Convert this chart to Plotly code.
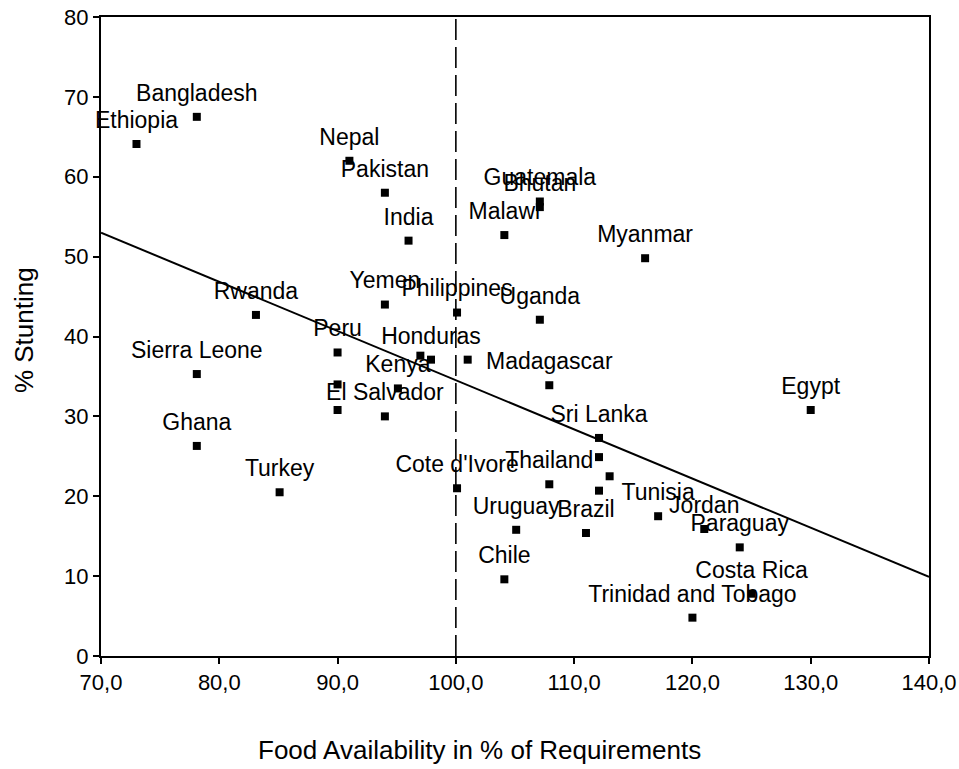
import plotly.graph_objects as go

countries = ["Ethiopia", "Bangladesh", "Nepal", "Pakistan", "India", "Guatemala", "Bhutan",
             "Malawi", "Myanmar", "Rwanda", "Yemen", "Philippines", "Uganda", "Peru",
             "Honduras", "", "", "Sierra Leone", "", "Kenya", "Madagascar", "", "El Salvador",
             "Egypt", "Ghana", "Sri Lanka", "", "", "Thailand", "", "Turkey", "Cote d'Ivore",
             "Uruguay", "Brazil", "Tunisia", "Jordan", "Paraguay", "Chile", "Costa Rica",
             "Trinidad and Tobago"]
food_availability = [73.0, 78.1, 91.0, 94.0, 96.0, 107.1, 107.1,
                     104.1, 116.0, 83.1, 94.0, 100.1, 107.1, 90.0,
                     97.9, 97.0, 101.0, 78.1, 90.0, 95.1, 107.9, 90.0, 94.0,
                     130.0, 78.1, 112.1, 112.1, 113.0, 107.9, 112.1, 85.1, 100.1,
                     105.1, 111.0, 117.1, 121.0, 124.0, 104.1, 125.0,
                     120.0]
stunting = [64.1, 67.5, 62.0, 58.0, 52.0, 56.9, 56.2,
            52.7, 49.8, 42.7, 44.0, 43.0, 42.1, 38.0,
            37.1, 37.6, 37.1, 35.3, 34.0, 33.5, 33.9, 30.8, 30.0,
            30.8, 26.3, 27.3, 24.9, 22.5, 21.5, 20.7, 20.5, 21.0,
            15.8, 15.4, 17.5, 15.9, 13.6, 9.6, 7.8,
            4.8]

fit_x = [70.0, 140.0]
fit_y = [53.0, 9.9]
ref_x = [100.0, 100.0]
ref_y = [0.0, 80.0]

x_tickvals = [70, 80, 90, 100, 110, 120, 130, 140]
x_ticktext = ["70,0", "80,0", "90,0", "100,0", "110,0", "120,0", "130,0", "140,0"]
y_tickvals = [0, 10, 20, 30, 40, 50, 60, 70, 80]
y_ticktext = ["0", "10", "20", "30", "40", "50", "60", "70", "80"]

FONT = "Liberation Sans, Arial, sans-serif"

fig = go.Figure()
fig.add_trace(go.Scatter(x=ref_x, y=ref_y, mode="lines",
                         line=dict(color="black", width=1.6, dash="21px,7px"),
                         hoverinfo="skip", showlegend=False))
fig.add_trace(go.Scatter(x=fit_x, y=fit_y, mode="lines",
                         line=dict(color="black", width=2),
                         hoverinfo="skip", showlegend=False))
# labels (transparent larger marker gives the label offset seen in the reference)
fig.add_trace(go.Scatter(x=food_availability, y=stunting, mode="markers+text",
                         text=countries, textposition="top center",
                         textfont=dict(family=FONT, size=23, color="black"),
                         marker=dict(symbol="square", size=15, color="rgba(0,0,0,0)"),
                         cliponaxis=False, hoverinfo="skip", showlegend=False))
fig.add_trace(go.Scatter(x=food_availability, y=stunting, mode="markers",
                         text=countries,
                         marker=dict(symbol="square", size=8, color="black"),
                         cliponaxis=False, showlegend=False))

fig.update_xaxes(range=[70, 140], tickvals=x_tickvals, ticktext=x_ticktext,
                 showgrid=False, zeroline=False, showline=True, linecolor="black",
                 linewidth=2, mirror=True, ticks="outside", ticklen=6, tickwidth=2,
                 tickcolor="black", ticklabeloverflow="allow", automargin=False,
                 tickfont=dict(family=FONT, size=22, color="black"))
fig.update_yaxes(range=[0, 80], tickvals=y_tickvals, ticktext=y_ticktext,
                 showgrid=False, zeroline=False, showline=True, linecolor="black",
                 linewidth=2, mirror=True, ticks="outside", ticklen=6, tickwidth=2,
                 tickcolor="black", ticklabeloverflow="allow", automargin=False,
                 tickfont=dict(family=FONT, size=22, color="black"))

fig.update_layout(
    width=959, height=769,
    margin=dict(l=101, r=30, t=17, b=113, autoexpand=False),
    plot_bgcolor="white", paper_bgcolor="white",
    font=dict(family=FONT, color="black"),
    annotations=[
        dict(text="Food Availability in % of Requirements", xref="paper", yref="paper",
             x=0.457, y=-0.147, xanchor="center", yanchor="middle", showarrow=False,
             font=dict(family=FONT, size=26, color="black")),
        dict(text="% Stunting", xref="paper", yref="paper", textangle=-90,
             x=-0.093, y=0.51, xanchor="center", yanchor="middle", showarrow=False,
             font=dict(family=FONT, size=26, color="black")),
    ],
)

fig.write_html("out.html", config={"displayModeBar": False},
               post_script="document.body.style.margin='0';document.body.style.overflow='hidden';")
